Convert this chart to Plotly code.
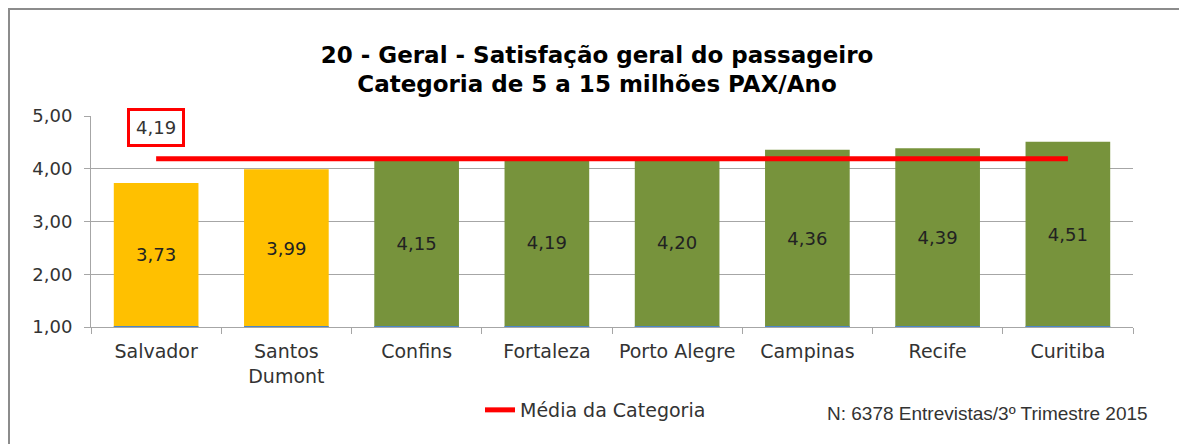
import plotly.graph_objects as go

categories = ["Salvador", "Santos<br>Dumont", "Confins", "Fortaleza", "Porto Alegre", "Campinas", "Recife", "Curitiba"]
values = [3.73, 3.99, 4.15, 4.19, 4.20, 4.36, 4.39, 4.51]
bar_colors = ["#FFC000", "#FFC000", "#77933C", "#77933C", "#77933C", "#77933C", "#77933C", "#77933C"]
media = [4.19] * len(categories)
media_label = "4,19"
y_min = 1.0
y_ticks = [1, 2, 3, 4, 5]
y_tick_labels = ["1,00", "2,00", "3,00", "4,00", "5,00"]

FONT = "DejaVu Sans"

def fmt(v):
    return f"{v:.2f}".replace(".", ",")

fig = go.Figure()

fig.add_trace(go.Bar(
    x=categories,
    y=[v - y_min for v in values],
    base=[y_min] * len(values),
    marker=dict(color=bar_colors, line=dict(width=0)),
    width=0.65,
    text=[fmt(v) for v in values],
    textposition="inside",
    insidetextanchor="middle",
    textangle=0,
    textfont=dict(family=FONT, size=18, color="#222222"),
    showlegend=False,
    hoverinfo="skip",
))

# thin blue base series
fig.add_trace(go.Bar(
    x=categories,
    y=[0.012] * len(values),
    base=[y_min] * len(values),
    marker=dict(color="#4A86C8", line=dict(width=0)),
    width=0.65,
    showlegend=False,
    hoverinfo="skip",
))

fig.add_trace(go.Scatter(
    x=categories,
    y=media,
    mode="lines",
    line=dict(color="#FF0000", width=5),
    name="Média da Categoria",
))

# page has an 8px body margin, so the figure is sized/offset to compensate
W, H = 1179, 436
L, R, T, B = 83, 54, 108, 117
pw, ph = W - L - R, H - T - B

fig.update_layout(
    width=W, height=H,
    margin=dict(l=L, r=R, t=T, b=B, autoexpand=False),
    paper_bgcolor="white",
    plot_bgcolor="white",
    barmode="overlay",
    font=dict(family=FONT, size=17, color="#333333"),
    title=dict(
        text="<b>20 - Geral - Satisfação geral do passageiro<br>Categoria de 5 a 15 milhões PAX/Ano</b>",
        x=589 / W, xanchor="center",
        y=1 - 54.5 / H, yanchor="middle",
        yref="container", xref="container",
        font=dict(family=FONT, size=23, color="#000000"),
    ),
    xaxis=dict(
        type="category",
        showgrid=False,
        showline=True, linecolor="#A6A6A6", linewidth=1,
        ticks="outside", tickson="boundaries", ticklen=6, tickcolor="#A6A6A6",
        tickfont=dict(family=FONT, size=19, color="#333333"),
        ticklabelstandoff=7,
        range=[-0.5, len(categories) - 0.5],
    ),
    yaxis=dict(
        range=[1, 5],
        tickvals=y_ticks, ticktext=y_tick_labels,
        showgrid=True, gridcolor="#A6A6A6", gridwidth=1,
        showline=True, linecolor="#A6A6A6", linewidth=1,
        ticks="outside", ticklen=6, tickcolor="#A6A6A6",
        tickfont=dict(family=FONT, size=18, color="#333333"),
        ticklabelstandoff=8,
        zeroline=False,
    ),
    legend=dict(
        orientation="h",
        x=(472 - L) / pw, xanchor="left",
        y=(319 - 402) / ph, yanchor="middle",
        font=dict(family=FONT, size=19, color="#333333"),
        bgcolor="rgba(0,0,0,0)",
        itemwidth=30,
    ),
    showlegend=True,
)

fig.add_annotation(
    x=categories[0], y=4.79, xref="x", yref="y",
    text=media_label, showarrow=False,
    font=dict(family=FONT, size=18, color="#333333"),
    bordercolor="#FF0000", borderwidth=3, borderpad=6, bgcolor="white",
)

fig.add_annotation(
    x=(1142 - L) / pw, y=(319 - 405) / ph, xref="paper", yref="paper",
    text="N: 6378 Entrevistas/3º Trimestre 2015",
    showarrow=False, xanchor="right", yanchor="middle",
    font=dict(family="Liberation Sans", size=19, color="#333333"),
)

fig.add_shape(
    type="rect", xref="paper", yref="paper",
    x0=(1 - L) / pw, x1=(1177 - L) / pw,
    y0=(319 - 445) / ph, y1=(319 - 1) / ph,
    line=dict(color="#8C8C8C", width=2), layer="below",
)

fig.write_html("out.html")
